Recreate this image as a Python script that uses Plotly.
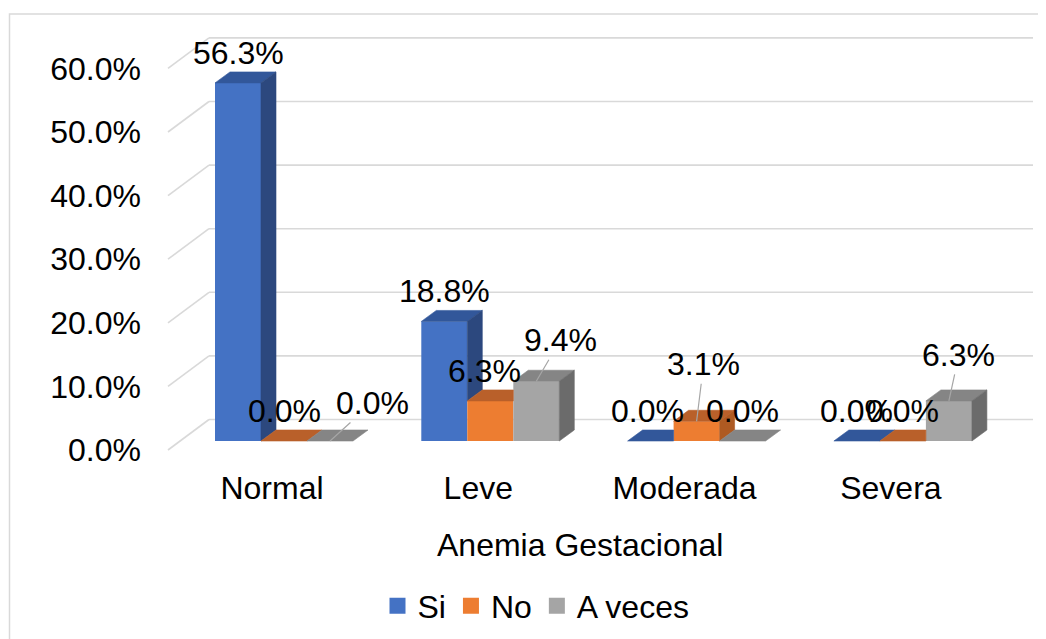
import plotly.graph_objects as go

# ---------------- data ----------------
categories = ["Normal", "Leve", "Moderada", "Severa"]
series_names = ["Si", "No", "A veces"]
si_values = [56.3, 18.8, 0.0, 0.0]
no_values = [0.0, 6.3, 3.1, 0.0]
a_veces_values = [0.0, 9.4, 0.0, 6.3]
y_ticks = [0, 10, 20, 30, 40, 50, 60]
y_tick_labels = ["0.0%", "10.0%", "20.0%", "30.0%", "40.0%", "50.0%", "60.0%"]
x_title = "Anemia Gestacional"

# ---------------- style ----------------
FONT = "Liberation Sans, Arial, sans-serif"
FS = 32
FRONT = ["#4472C4", "#ED7D31", "#A5A5A5"]
TOP = ["#32579A", "#B9602A", "#858585"]
SIDE = ["#2C487E", "#AE5A22", "#6B6B6B"]
GRID = "#D9D9D9"

OFF = 8                # page body margin
PX_X = 206.3           # pixels per category unit
PX_Y = 6.36            # pixels per percent
BAR_W = 46 / PX_X
GROUP_SHIFT = 12 / PX_X
DEPTH_X = 15 / PX_X
DEPTH_Y = 11 / PX_Y
WALL_DY = 21.5 / PX_Y
FRONT_DY = -9 / PX_Y
FRONT_X0 = (168 - 272) / PX_X
WALL_X0 = (209 - 272) / PX_X
WALL_X1 = (1033 - 272) / PX_X

W, H = 1046, 639
PLOT_L, PLOT_R, PLOT_T, PLOT_B = 150, 1048, 20, 460   # screen pixels
ML = PLOT_L - OFF
MR = W - (PLOT_R - OFF)
MT = PLOT_T - OFF
MB = H - (PLOT_B - OFF)
PW = W - ML - MR
PH = H - MT - MB
X_RANGE = [(PLOT_L - 272) / PX_X, (PLOT_R - 272) / PX_X]
Y_LOW = -(PLOT_B - 441) / PX_Y
Y_RANGE = [Y_LOW, Y_LOW + PH / PX_Y]


def paper_x(sx):
    return (sx - PLOT_L) / PW


def paper_y(sy):
    return (PLOT_B - sy) / PH


# label placement tweaks: (series, category) -> (ax, ay) leader offsets in px
LEADERS = {(2, 0): (42, -38), (2, 1): (24, -41), (1, 2): (7, -57), (2, 3): (10, -46)}
XSHIFT = {(1, 1): -6, (0, 2): -3}

all_values = [si_values, no_values, a_veces_values]

fig = go.Figure()

# front faces as bars
for s, vals in enumerate(all_values):
    xs = [i + GROUP_SHIFT + (s - 1) * BAR_W for i in range(len(categories))]
    fig.add_trace(go.Bar(
        x=xs, y=vals, width=BAR_W, name=series_names[s],
        marker=dict(color=FRONT[s], line=dict(width=0)),
        showlegend=False, hoverinfo="skip"))


def poly(xs, ys, color):
    fig.add_trace(go.Scatter(
        x=xs + [xs[0]], y=ys + [ys[0]], mode="lines", fill="toself",
        fillcolor=color, line=dict(color=color, width=0.6),
        showlegend=False, hoverinfo="skip"))


# top and side faces (3D look), clipped against the next bar's front
for i in range(len(categories)):
    for s, vals in enumerate(all_values):
        v = vals[i]
        L = i + GROUP_SHIFT + (s - 1) * BAR_W - BAR_W / 2
        R = L + BAR_W
        vn = all_values[s + 1][i] if s < 2 else None
        if vn is None or vn <= v:
            tx = [L, R, R + DEPTH_X, L + DEPTH_X]
            ty = [v, v, v + DEPTH_Y, v + DEPTH_Y]
        elif vn >= v + DEPTH_Y:
            tx = [L, R, R, L + DEPTH_X]
            ty = [v, v, v + DEPTH_Y, v + DEPTH_Y]
        else:
            xc = R + DEPTH_X * (vn - v) / DEPTH_Y
            tx = [L, R, R, xc, R + DEPTH_X, L + DEPTH_X]
            ty = [v, v, vn, vn, v + DEPTH_Y, v + DEPTH_Y]
        poly(tx, ty, TOP[s])
        a = 0 if vn is None else max(0, vn)
        if v > a:
            poly([R, R + DEPTH_X, R + DEPTH_X, R],
                 [a, a + DEPTH_Y, v + DEPTH_Y, v], SIDE[s])

# legend entries
for s in range(3):
    fig.add_trace(go.Scatter(
        x=[None], y=[None], mode="markers", name=series_names[s],
        marker=dict(symbol="square", size=16, color=FRONT[s])))

# gridlines (side wall diagonals + back wall)
shapes = []
for t in y_ticks:
    shapes.append(dict(type="line", xref="x", yref="y", layer="below",
                       x0=FRONT_X0, y0=t + FRONT_DY, x1=WALL_X0, y1=t + WALL_DY,
                       line=dict(color=GRID, width=1.6)))
    shapes.append(dict(type="line", xref="x", yref="y", layer="below",
                       x0=WALL_X0, y0=t + WALL_DY, x1=WALL_X1, y1=t + WALL_DY,
                       line=dict(color=GRID, width=1.6)))
# chart border
shapes.append(dict(type="rect", xref="paper", yref="paper",
                   x0=paper_x(9.5), x1=paper_x(1100),
                   y0=paper_y(700), y1=paper_y(14),
                   line=dict(color=GRID, width=1.5), layer="below"))

# data labels
annotations = []
for s, vals in enumerate(all_values):
    for i, v in enumerate(vals):
        xc = i + GROUP_SHIFT + (s - 1) * BAR_W
        txt = f"{v:.1f}%"
        if (s, i) in LEADERS:
            ax, ay = LEADERS[(s, i)]
            annotations.append(dict(
                x=xc, y=v, xref="x", yref="y", text=txt, showarrow=True,
                arrowhead=0, arrowwidth=1.2, arrowcolor="#A6A6A6",
                ax=ax, ay=ay, font=dict(family=FONT, size=FS, color="black")))
        else:
            annotations.append(dict(
                x=xc, y=v + DEPTH_Y, xref="x", yref="y", text=txt,
                showarrow=False, yshift=19, xshift=XSHIFT.get((s, i), 0),
                font=dict(family=FONT, size=FS, color="black")))

# axis title
annotations.append(dict(
    x=paper_x(580), y=paper_y(545), xref="paper", yref="paper",
    text=x_title, showarrow=False, xanchor="center", yanchor="middle",
    font=dict(family=FONT, size=FS, color="black")))

fig.update_layout(
    width=W, height=H,
    margin=dict(l=ML, r=MR, t=MT, b=MB),
    paper_bgcolor="white", plot_bgcolor="white",
    barmode="overlay",
    font=dict(family=FONT, size=FS, color="black"),
    shapes=shapes, annotations=annotations,
    showlegend=True,
    legend=dict(orientation="h", x=paper_x(536), xanchor="center",
                y=paper_y(606), yanchor="middle",
                font=dict(family=FONT, size=FS, color="black"),
                itemwidth=30, traceorder="normal"),
    xaxis=dict(range=X_RANGE, tickvals=list(range(len(categories))),
               ticktext=categories, showgrid=False, zeroline=False,
               showline=False, ticks="", ticklabelstandoff=6,
               tickfont=dict(family=FONT, size=FS, color="black")),
    yaxis=dict(range=Y_RANGE, tickvals=[t + FRONT_DY for t in y_ticks],
               ticktext=y_tick_labels, showgrid=False, zeroline=False,
               showline=False, ticks="", ticklabelstandoff=8,
               tickfont=dict(family=FONT, size=FS, color="black")),
)

fig.write_html("out.html")
